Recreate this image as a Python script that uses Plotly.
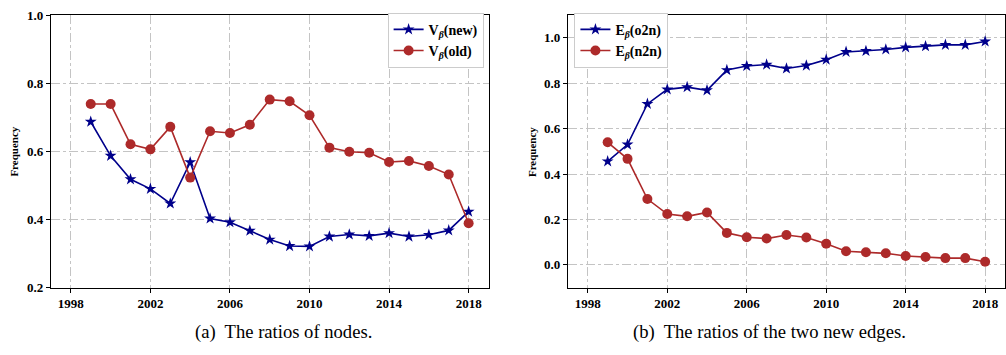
import plotly.graph_objects as go

years = list(range(1999, 2019))

# (a) node ratios
v_new = [0.687, 0.587, 0.518, 0.490, 0.447, 0.568, 0.403, 0.392, 0.367, 0.341,
         0.322, 0.321, 0.350, 0.356, 0.352, 0.360, 0.350, 0.355, 0.368, 0.423]
v_old = [0.739, 0.739, 0.621, 0.606, 0.672, 0.523, 0.659, 0.654, 0.678, 0.752,
         0.747, 0.706, 0.611, 0.599, 0.596, 0.569, 0.572, 0.557, 0.532, 0.389]

# (b) edge ratios
e_o2n = [0.456, 0.530, 0.709, 0.773, 0.783, 0.769, 0.858, 0.876, 0.882, 0.865,
         0.878, 0.904, 0.938, 0.942, 0.949, 0.958, 0.963, 0.969, 0.969, 0.984]
e_n2n = [0.540, 0.467, 0.290, 0.224, 0.214, 0.231, 0.141, 0.122, 0.116, 0.132,
         0.121, 0.093, 0.060, 0.056, 0.051, 0.039, 0.035, 0.030, 0.030, 0.014]

x_ticks = [1998, 2002, 2006, 2010, 2014, 2018]
y_ticks_a = [0.2, 0.4, 0.6, 0.8, 1.0]
y_ticks_b = [0.0, 0.2, 0.4, 0.6, 0.8, 1.0]

BLUE = "#00008b"
RED = "#ad2a2a"
SERIF = "Liberation Serif, Times New Roman, DejaVu Serif, serif"
W, H = 1006, 355

fig = go.Figure()


def add_pair(xa, ya, legend, s1, n1, s2, n2):
    fig.add_trace(go.Scatter(
        x=years, y=s1, name=n1, mode="lines+markers", xaxis=xa, yaxis=ya,
        legend=legend,
        line=dict(color=BLUE, width=1.6),
        marker=dict(symbol="star", size=9, color=BLUE)))
    fig.add_trace(go.Scatter(
        x=years, y=s2, name=n2, mode="lines+markers", xaxis=xa, yaxis=ya,
        legend=legend,
        line=dict(color=RED, width=1.6),
        marker=dict(symbol="circle", size=10, color=RED)))


def label(letter, sub):
    return f"<b>{letter}<sub><i>β</i></sub>({sub})</b>"


add_pair("x", "y", "legend", v_new, label("V", "new"),
         v_old, label("V", "old"))
add_pair("x2", "y2", "legend2", e_o2n, label("E", "o2n"),
         e_n2n, label("E", "n2n"))

tick_font = dict(family=SERIF, size=13, color="black", weight="bold")
axis_common = dict(
    showline=True, linecolor="black", linewidth=1.3, mirror=True,
    ticks="outside", ticklen=4, tickwidth=1, tickcolor="black",
    showgrid=True, gridcolor="#c4c4c4", gridwidth=1, griddash="dashdot",
    zeroline=False, tickfont=tick_font,
)

y_bot = 1 - 293 / H
y_top = 1 - 8.5 / H

legend_style = dict(
    xanchor="left", yanchor="top", y=1 - 6 / H,
    bgcolor="white", bordercolor="#cccccc", borderwidth=1,
    font=dict(family=SERIF, size=14, color="black"),
    tracegroupgap=0, itemwidth=30,
)

fig.update_layout(
    width=W, height=H,
    margin=dict(l=0, r=0, t=0, b=0),
    paper_bgcolor="white", plot_bgcolor="white",
    font=dict(family=SERIF, color="black"),
    xaxis=dict(domain=[51 / W, 489 / W], range=[1997, 2019],
               tickvals=x_ticks, anchor="y", **axis_common),
    yaxis=dict(domain=[y_bot, y_top], range=[0.2, 1.0],
               tickvals=y_ticks_a, tickformat=".1f", anchor="x", **axis_common),
    xaxis2=dict(domain=[568.5 / W, 1.0], range=[1997, 2019],
                tickvals=x_ticks, anchor="y2", **axis_common),
    yaxis2=dict(domain=[y_bot, y_top], range=[-0.1, 1.1],
                tickvals=y_ticks_b, tickformat=".1f", anchor="x2", **axis_common),
    legend=dict(x=388 / W, **legend_style),
    legend2=dict(x=575 / W, **legend_style),
    showlegend=True,
)

# y-axis titles
for xpx in (14, 532):
    fig.add_annotation(
        text="<b>Frequency</b>", textangle=-90, showarrow=False,
        x=xpx / W, y=1 - 151 / H, xref="paper", yref="paper",
        xanchor="center", yanchor="middle",
        font=dict(family=SERIF, size=11, color="black"))

# sub-figure captions
for xpx, cap in ((284, "(a)  The ratios of nodes."),
                 (770, "(b)  The ratios of the two new edges.")):
    fig.add_annotation(
        text=cap, showarrow=False,
        x=xpx / W, y=1 - 339 / H, xref="paper", yref="paper",
        xanchor="center", yanchor="middle",
        font=dict(family=SERIF, size=18.6, color="black"))

fig.write_html("out.html")
